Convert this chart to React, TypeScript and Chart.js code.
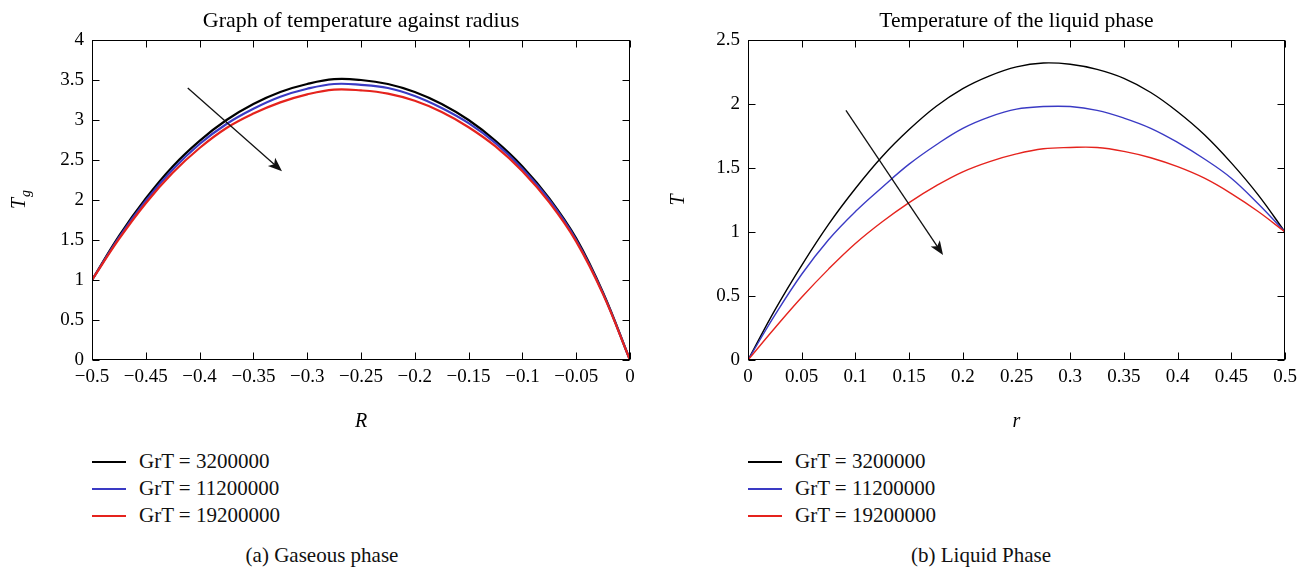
import React, { useEffect, useRef } from "react";
import { Chart, registerables } from "chart.js";

Chart.register(...registerables);

const FONT = "'Liberation Serif', 'DejaVu Serif', serif";

// ---------- Data ----------
const seriesLabels = ["GrT = 3200000", "GrT = 11200000", "GrT = 19200000"];
const seriesColors = ["#000000", "#3a3ac4", "#e5231d"];

// (a) Gaseous phase
const gasR = [
  -0.5, -0.475, -0.45, -0.425, -0.4, -0.375, -0.35, -0.325, -0.3, -0.275, -0.25,
  -0.225, -0.2, -0.175, -0.15, -0.125, -0.1, -0.075, -0.05, -0.025, 0,
];
const gasBlack = [1.0, 1.55, 2.02, 2.42, 2.74, 3.0, 3.2, 3.35, 3.45, 3.51, 3.5, 3.45, 3.35, 3.2, 3.0, 2.74, 2.42, 2.02, 1.52, 0.84, 0.0];
const gasBlue = [1.0, 1.53, 1.99, 2.38, 2.7, 2.95, 3.14, 3.29, 3.39, 3.45, 3.44, 3.4, 3.3, 3.15, 2.96, 2.71, 2.39, 2.0, 1.5, 0.83, 0.0];
const gasRed = [1.0, 1.51, 1.96, 2.34, 2.65, 2.9, 3.08, 3.22, 3.32, 3.38, 3.37, 3.33, 3.24, 3.1, 2.91, 2.67, 2.36, 1.97, 1.48, 0.82, 0.0];
const gasXTicks = [-0.5, -0.45, -0.4, -0.35, -0.3, -0.25, -0.2, -0.15, -0.1, -0.05, 0];
const gasYTicks = [0, 0.5, 1, 1.5, 2, 2.5, 3, 3.5, 4];
const gasArrow = [[-0.411, 3.4], [-0.3234, 2.36]];

// (b) Liquid phase
const liqR = [
  0, 0.025, 0.05, 0.075, 0.1, 0.125, 0.15, 0.175, 0.2, 0.225, 0.25, 0.275, 0.3,
  0.325, 0.35, 0.375, 0.4, 0.425, 0.45, 0.475, 0.5,
];
const liqBlack = [0, 0.39, 0.74, 1.06, 1.34, 1.59, 1.8, 1.98, 2.12, 2.22, 2.29, 2.32, 2.31, 2.27, 2.2, 2.09, 1.94, 1.76, 1.54, 1.29, 1.0];
const liqBlue = [0, 0.35, 0.67, 0.94, 1.16, 1.35, 1.53, 1.68, 1.81, 1.9, 1.96, 1.98, 1.98, 1.95, 1.89, 1.81, 1.7, 1.57, 1.42, 1.22, 1.0];
const liqRed = [0, 0.25, 0.49, 0.71, 0.91, 1.08, 1.23, 1.36, 1.47, 1.55, 1.61, 1.65, 1.66, 1.66, 1.63, 1.58, 1.51, 1.42, 1.3, 1.16, 1.0];
const liqXTicks = [0, 0.05, 0.1, 0.15, 0.2, 0.25, 0.3, 0.35, 0.4, 0.45, 0.5];
const liqYTicks = [0, 0.5, 1, 1.5, 2, 2.5];
const liqArrow = [[0.0912, 1.95], [0.1816, 0.82]];

// ---------- Helpers ----------
function fmtTick(v: number) {
  const r = Math.round(v * 100) / 100;
  const s = String(Math.abs(r));
  return r < 0 ? "\u2212" + s : s;
}

const framePlugin = {
  id: "frame",
  afterDraw(chart: any, _args: any, opts: any) {
    const { ctx, chartArea: a, scales } = chart;
    ctx.save();
    ctx.strokeStyle = "#000";
    ctx.lineWidth = 1;
    const L = Math.round(a.left) + 0.5;
    const R = Math.round(a.right) - 0.5;
    const T = Math.round(a.top) + 0.5;
    const B = Math.round(a.bottom) - 0.5;
    ctx.strokeRect(L, T, R - L, B - T);
    const len = 7;
    ctx.beginPath();
    scales.x.ticks.forEach((t: any) => {
      const px = Math.round(scales.x.getPixelForValue(t.value)) + 0.5;
      ctx.moveTo(px, B);
      ctx.lineTo(px, B - len);
      ctx.moveTo(px, T);
      ctx.lineTo(px, T + len);
    });
    scales.y.ticks.forEach((t: any) => {
      const py = Math.round(scales.y.getPixelForValue(t.value)) + 0.5;
      ctx.moveTo(L, py);
      ctx.lineTo(L + len, py);
      ctx.moveTo(R, py);
      ctx.lineTo(R - len, py);
    });
    ctx.stroke();

    // arrow
    if (opts.arrow) {
      const [p0, p1] = opts.arrow;
      const x0 = scales.x.getPixelForValue(p0[0]);
      const y0 = scales.y.getPixelForValue(p0[1]);
      const x1 = scales.x.getPixelForValue(p1[0]);
      const y1 = scales.y.getPixelForValue(p1[1]);
      const ang = Math.atan2(y1 - y0, x1 - x0);
      const hl = 14;
      const hw = 5.5;
      ctx.beginPath();
      ctx.lineWidth = 1.3;
      ctx.strokeStyle = "#111";
      ctx.moveTo(x0, y0);
      ctx.lineTo(x1 - Math.cos(ang) * hl * 0.7, y1 - Math.sin(ang) * hl * 0.7);
      ctx.stroke();
      ctx.beginPath();
      ctx.fillStyle = "#111";
      const bx = x1 - Math.cos(ang) * hl;
      const by = y1 - Math.sin(ang) * hl;
      const nx = -Math.sin(ang);
      const ny = Math.cos(ang);
      ctx.moveTo(x1, y1);
      ctx.lineTo(bx + nx * hw, by + ny * hw);
      ctx.lineTo(x1 - Math.cos(ang) * hl * 0.75, y1 - Math.sin(ang) * hl * 0.75);
      ctx.lineTo(bx - nx * hw, by - ny * hw);
      ctx.closePath();
      ctx.fill();
    }

    // y-axis title with optional subscript
    if (opts.yTitle) {
      const cy = (a.top + a.bottom) / 2;
      ctx.translate(opts.yTitleX, cy);
      ctx.rotate(-Math.PI / 2);
      ctx.fillStyle = "#000";
      ctx.textBaseline = "alphabetic";
      ctx.font = `italic 20px ${FONT}`;
      const mainW = ctx.measureText(opts.yTitle).width;
      let subW = 0;
      if (opts.ySub) {
        ctx.font = `italic 14px ${FONT}`;
        subW = ctx.measureText(opts.ySub).width;
      }
      const total = mainW + subW;
      ctx.font = `italic 20px ${FONT}`;
      ctx.textAlign = "left";
      ctx.fillText(opts.yTitle, -total / 2, 7);
      if (opts.ySub) {
        ctx.font = `italic 14px ${FONT}`;
        ctx.fillText(opts.ySub, -total / 2 + mainW + 1, 12);
      }
    }
    ctx.restore();
  },
};

function makeConfig(p: {
  xs: number[];
  ys: number[][];
  widths: number[];
  xMin: number;
  xMax: number;
  yMin: number;
  yMax: number;
  xTicks: number[];
  yTicks: number[];
  xTitle: string;
  yTitle: string;
  ySub?: string;
  yTitleX: number;
  yAxisWidth: number;
  rightPad: number;
  arrow: number[][];
}) {
  return {
    type: "line",
    data: {
      datasets: p.ys.map((arr, k) => ({
        label: seriesLabels[k],
        data: p.xs.map((x, i) => ({ x, y: arr[i] })),
        borderColor: seriesColors[k],
        backgroundColor: seriesColors[k],
        borderWidth: p.widths[k],
        pointRadius: 0,
        tension: 0.4,
        fill: false,
        order: 3 - k,
      })),
    },
    options: {
      animation: false,
      responsive: false,
      devicePixelRatio: 1,
      layout: { padding: { left: 0, right: p.rightPad, top: 40, bottom: 0 } },
      plugins: {
        legend: { display: false },
        tooltip: { enabled: false },
        title: { display: false },
        frame: { arrow: p.arrow, yTitle: p.yTitle, ySub: p.ySub, yTitleX: p.yTitleX },
      },
      scales: {
        x: {
          type: "linear",
          min: p.xMin,
          max: p.xMax,
          grid: { display: false, drawTicks: false },
          border: { display: false },
          afterBuildTicks: (s: any) => {
            s.ticks = p.xTicks.map((v) => ({ value: v }));
          },
          afterFit: (s: any) => {
            s.height = 80;
          },
          ticks: {
            callback: (v: any) => fmtTick(Number(v)),
            color: "#000",
            font: { family: FONT, size: 19 },
            padding: 6,
            maxRotation: 0,
            autoSkip: false,
          },
          title: {
            display: true,
            text: p.xTitle,
            color: "#000",
            font: { family: FONT, size: 20, style: "italic" },
            padding: { top: 0, bottom: 6 },
          },
        },
        y: {
          type: "linear",
          min: p.yMin,
          max: p.yMax,
          grid: { display: false, drawTicks: false },
          border: { display: false },
          afterBuildTicks: (s: any) => {
            s.ticks = p.yTicks.map((v) => ({ value: v }));
          },
          afterFit: (s: any) => {
            s.width = p.yAxisWidth;
          },
          ticks: {
            callback: (v: any) => fmtTick(Number(v)),
            color: "#000",
            font: { family: FONT, size: 19 },
            padding: 8,
            autoSkip: false,
          },
        },
      },
    },
    plugins: [framePlugin],
  };
}

function Legend({ left, top }: { left: number; top: number }) {
  return (
    <div style={{ position: "absolute", left, top }}>
      {seriesLabels.map((lab, k) => (
        <div key={lab} style={{ display: "flex", alignItems: "center", height: 27 }}>
          <span
            style={{
              display: "inline-block",
              width: 34,
              height: 2,
              background: seriesColors[k],
            }}
          />
          <span style={{ marginLeft: 13, fontSize: 21, lineHeight: "27px", color: "#111", whiteSpace: "nowrap" }}>{lab}</span>
        </div>
      ))}
    </div>
  );
}

function Title({ text, center, size }: { text: string; center: number; size: number }) {
  return (
    <div
      style={{
        position: "absolute",
        left: center - 250,
        width: 500,
        top: 4,
        height: 32,
        lineHeight: "32px",
        textAlign: "center",
        fontSize: size,
        color: "#000",
        whiteSpace: "nowrap",
      }}
    >
      {text}
    </div>
  );
}

export default function App() {
  const leftRef = useRef<HTMLCanvasElement>(null);
  const rightRef = useRef<HTMLCanvasElement>(null);

  useEffect(() => {
    const c1 = new Chart(
      leftRef.current as HTMLCanvasElement,
      makeConfig({
        xs: gasR,
        ys: [gasBlack, gasBlue, gasRed],
        widths: [2.2, 2.2, 2.2],
        xMin: -0.5,
        xMax: 0,
        yMin: 0,
        yMax: 4,
        xTicks: gasXTicks,
        yTicks: gasYTicks,
        xTitle: "R",
        yTitle: "T",
        ySub: "g",
        yTitleX: 18,
        yAxisWidth: 92,
        rightPad: 25,
        arrow: gasArrow,
      }) as any
    );
    const c2 = new Chart(
      rightRef.current as HTMLCanvasElement,
      makeConfig({
        xs: liqR,
        ys: [liqBlack, liqBlue, liqRed],
        widths: [1.4, 1.4, 1.4],
        xMin: 0,
        xMax: 0.5,
        yMin: 0,
        yMax: 2.5,
        xTicks: liqXTicks,
        yTicks: liqYTicks,
        xTitle: "r",
        yTitle: "T",
        yTitleX: 22,
        yAxisWidth: 93,
        rightPad: 26,
        arrow: liqArrow,
      }) as any
    );
    return () => {
      c1.destroy();
      c2.destroy();
    };
  }, []);

  return (
    <div
      style={{
        position: "absolute",
        left: 0,
        top: 0,
        width: 1311,
        height: 569,
        background: "#fff",
        fontFamily: FONT,
        color: "#111",
      }}
    >
      <canvas ref={leftRef} width={655} height={440} style={{ position: "absolute", left: 0, top: 0, width: 655, height: 440 }} />
      <canvas ref={rightRef} width={656} height={440} style={{ position: "absolute", left: 655, top: 0, width: 656, height: 440 }} />
      <Title text="Graph of temperature against radius" center={361} size={22} />
      <Title text="Temperature of the liquid phase" center={1016.5} size={21.6} />
      <Legend left={92} top={448} />
      <Legend left={748} top={448} />
      <div style={{ position: "absolute", left: 0, width: 644, top: 543, textAlign: "center", fontSize: 21, lineHeight: "24px" }}>
        (a) Gaseous phase
      </div>
      <div style={{ position: "absolute", left: 655, width: 652, top: 543, textAlign: "center", fontSize: 21, lineHeight: "24px" }}>
        (b) Liquid Phase
      </div>
    </div>
  );
}
